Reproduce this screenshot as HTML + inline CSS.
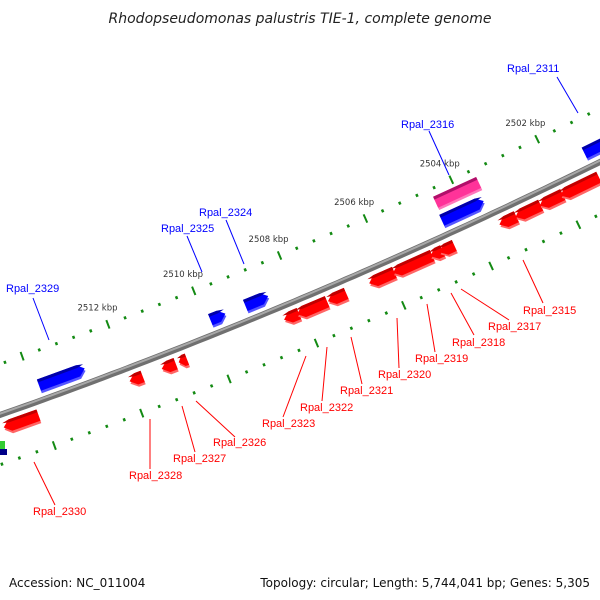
<!DOCTYPE html>
<html><head><meta charset="utf-8"><style>
html,body{margin:0;padding:0;background:#fff;width:600px;height:600px;overflow:hidden}
svg{display:block;font-family:"DejaVu Sans","Liberation Sans",sans-serif}
</style></head><body>
<svg id="map" width="600" height="600" viewBox="0 0 600 600">
<text x="300" y="23" text-anchor="middle" font-size="14" font-style="italic" fill="#222">Rhodopseudomonas palustris TIE-1, complete genome</text>
<text x="9" y="587" font-size="12" fill="#111">Accession: NC_011004</text>
<text x="590" y="587" text-anchor="end" font-size="12" fill="#111">Topology: circular; Length: 5,744,041 bp; Genes: 5,305</text>
<g id="layer"></g>
</svg>
<script>
const majorTicks = [2502, 2504, 2506, 2508, 2510, 2512, 2514];
const majorLabels = ["2502 kbp","2504 kbp","2506 kbp","2508 kbp","2510 kbp","2512 kbp",""];
const geneStart = [2513.87,2509.90,2509.09,2504.54,2501.24, 2514.9,2512.0,2511.26,2510.87,2508.44,2508.14,2507.43,2506.48,2505.93,2505.07,2504.86,2503.48,2503.11,2502.55,2502.07];
const geneEnd   = [2512.81,2509.55,2508.56,2503.57,2500.60, 2514.1,2511.7,2510.94,2510.68,2508.10,2507.45,2507.01,2505.90,2505.03,2504.79,2504.52,2503.09,2502.53,2502.02,2501.19];
const geneStrand = [1,1,1,1,1, -1,-1,-1,-1,-1,-1,-1,-1,-1,-1,-1,-1,-1,-1,-1];
const otherStart = [2504.5];
const otherEnd = [2503.5];
const redLabels = ["Rpal_2330","Rpal_2328","Rpal_2327","Rpal_2326","Rpal_2323","Rpal_2322","Rpal_2321","Rpal_2320","Rpal_2319","Rpal_2318","Rpal_2317","Rpal_2315"];
const blueLabels = ["Rpal_2329","Rpal_2325","Rpal_2324","Rpal_2316","Rpal_2311"];
const redLab = [[33,515,34,462,55,505],[129,479,150,419,150,469],[173,462,182,406,195,452],[213,446,196,401,235,437],[262,427,306,356,283,417],[300,411,327,347,322,401],[340,394,351,337,362,384],[378,378,397,318,399,368],[415,362,427,304,435,352],[452,346,451,293,474,335],[488,330,461,289,509,320],[523,314,523,260,543,303]];
const blueLab = [[6,292,33,298,49,340],[161,232,187,236,202,272],[199,216,226,220,244,264],[401,128,429,131,449,175],[507,72,557,77,578,113]];

const NS="http://www.w3.org/2000/svg";
const layer=document.getElementById('layer');
function yb(x){return 415-0.3517*x-1.1667e-4*x*x;}
function xOf(k){return 125+(2512-k)*43.3;}
function pt(k,off){const x=xOf(k);const s=-0.3517-2.333e-4*x;const L=Math.sqrt(1+s*s);return [x+(-s/L)*off, yb(x)+(1/L)*off];}
function mk(tag,attrs){const e=document.createElementNS(NS,tag);for(const a in attrs)e.setAttribute(a,attrs[a]);layer.appendChild(e);return e;}
function P(arr){return arr.map(p=>p[0].toFixed(1)+','+p[1].toFixed(1)).join(' ');}

let bb=[];for(let k=2516.5;k>=2499.5;k-=0.2)bb.push(pt(k,0));
let e=mk('polyline',{points:P(bb),fill:'none',stroke:'#707070','stroke-width':6});


let bb2=[];for(let k=2516.5;k>=2499.5;k-=0.2)bb2.push(pt(k,-1.2));
e=mk('polyline',{points:P(bb2),fill:'none',stroke:'#a8a8a8','stroke-width':2});



[-48,47].forEach(off=>{
  for(let i=0;i<=45;i++){const k=2499.6+i*0.4;const major=majorTicks.some(m=>Math.abs(m-k)<0.01);
    const len=major?4.5:1.5;const a=pt(k,off-len),b=pt(k,off+len);
    const t=mk('line',{x1:a[0],y1:a[1],x2:b[0],y2:b[1],stroke:'#138a13','stroke-width':major?2:2.5});
    
    }
});
majorTicks.forEach((k,i)=>{if(!majorLabels[i])return;const p=pt(k,-66);
  const t=mk('text',{x:p[0]-4,y:p[1]+3,'text-anchor':'middle','font-size':8.5,fill:'#333'});t.textContent=majorLabels[i];
  
  });

function shape(k1,k2,off,h,dir){
  const head=Math.min(0.15,Math.abs(k1-k2)*0.6);const pts=[];
  if(dir===1){pts.push(pt(k1,off-h/2),pt(k2+head,off-h/2),pt(k2,off),pt(k2+head,off+h/2),pt(k1,off+h/2));}
  else if(dir===-1){pts.push(pt(k2,off-h/2),pt(k1-head,off-h/2),pt(k1,off),pt(k1-head,off+h/2),pt(k2,off+h/2));}
  else{pts.push(pt(k1,off-h/2),pt(k2,off-h/2),pt(k2,off+h/2),pt(k1,off+h/2));}
  return P(pts);
}
function feature(k1,k2,off,dir,cMain,cLight,cDark,name){
  let s=mk('polygon',{points:shape(k1,k2,off+2.5,12,dir),fill:cLight});
  
  
  s=mk('polygon',{points:shape(k1,k2,off,12,dir),fill:cMain});
  
  
  s=mk('polygon',{points:shape(k1,k2,off-4.5,3,dir),fill:cDark});
  
  
}
geneStart.forEach((k,i)=>{
  if(geneStrand[i]===1)feature(k,geneEnd[i],-15,1,'#0000ff','#5555ff','#0000a8','forward-gene');
  else feature(k,geneEnd[i],13,-1,'#ff0000','#ff6666','#c00000','reverse-gene');
});
otherStart.forEach((k,i)=>feature(k,otherEnd[i],-34,0,'#ff3399','#ff77bb','#b0106a','other-feature'));

e=mk('rect',{x:0,y:441,width:5,height:8,fill:'#33cc33'});


e=mk('rect',{x:0,y:449,width:7,height:6,fill:'#000088'});



function labels(names,lay,col,nm){names.forEach((n,i)=>{const L=lay[i];
  let l=mk('line',{x1:L[2],y1:L[3],x2:L[4],y2:L[5],stroke:col,'stroke-width':1});
  
  
  let t=mk('text',{x:L[0],y:L[1],'font-size':11,'font-family':'"Liberation Sans",sans-serif',fill:col});t.textContent=n;
  
  });}
labels(redLabels,redLab,'#ff0000','reverse-gene-label');
labels(blueLabels,blueLab,'#0000ff','forward-gene-label');
</script>
</body></html>
